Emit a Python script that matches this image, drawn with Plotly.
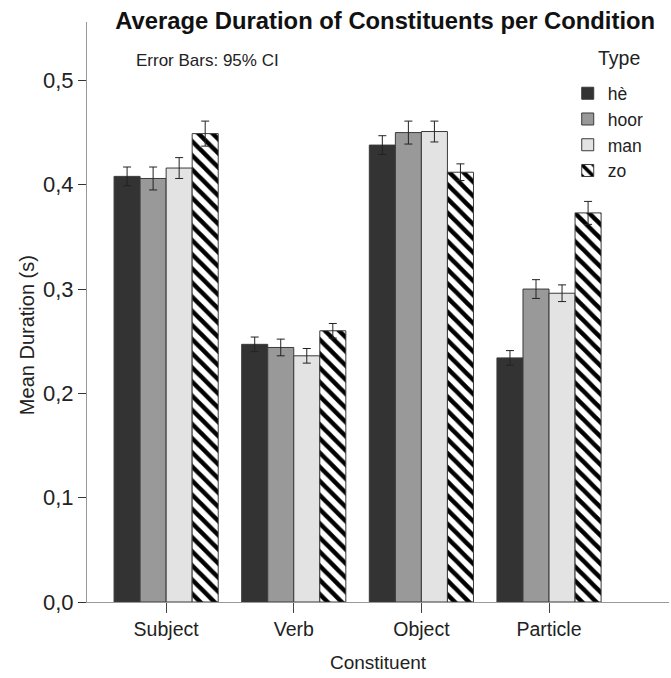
import plotly.graph_objects as go

categories = ["Subject", "Verb", "Object", "Particle"]
types = ["hè", "hoor", "man", "zo"]

mean_he = [0.408, 0.247, 0.438, 0.234]
mean_hoor = [0.406, 0.244, 0.450, 0.300]
mean_man = [0.416, 0.236, 0.451, 0.296]
mean_zo = [0.449, 0.260, 0.412, 0.373]

ci_he = [0.009, 0.007, 0.009, 0.007]
ci_hoor = [0.011, 0.008, 0.011, 0.009]
ci_man = [0.010, 0.007, 0.010, 0.008]
ci_zo = [0.012, 0.007, 0.008, 0.011]

y_ticks = [0.0, 0.1, 0.2, 0.3, 0.4, 0.5]

series = [
    ("hè", mean_he, ci_he, dict(color="#333333")),
    ("hoor", mean_hoor, ci_hoor, dict(color="#999999")),
    ("man", mean_man, ci_man, dict(color="#e3e3e3")),
    ("zo", mean_zo, ci_zo, dict(color="white",
                                 pattern=dict(shape="\\", fgcolor="black", bgcolor="white",
                                              size=10, solidity=0.45, fillmode="replace"))),
]

FONT = "Liberation Sans, Arial, sans-serif"

fig = go.Figure()
for name, vals, ci, mk in series:
    marker = dict(mk)
    marker["line"] = dict(color="#3a3a3a", width=1)
    fig.add_trace(go.Bar(
        x=categories, y=vals, name=name, marker=marker,
        error_y=dict(type="data", array=ci, visible=True, color="#222222", thickness=1, width=4),
    ))

fig.update_layout(
    width=671, height=678,
    margin=dict(l=87, r=2, t=22, b=76),
    paper_bgcolor="white", plot_bgcolor="white",
    separators=",.",
    barmode="group", bargap=0.184, bargroupgap=0,
    font=dict(family=FONT, size=19, color="#222222"),
    title=dict(text="<b>Average Duration of Constituents per Condition</b>",
               x=0.574, xanchor="center", y=0.970, yanchor="middle",
               font=dict(family=FONT, size=23.8, color="#111111")),
    xaxis=dict(
        range=[-0.62, 3.94], showgrid=False, zeroline=False,
        showline=True, linecolor="#999999", linewidth=1,
        ticks="outside", ticklen=10, tickcolor="#444444",
        tickfont=dict(size=19.5, color="#222222"),
        title=dict(text="Constituent", font=dict(size=19, color="#222222"), standoff=16),
    ),
    yaxis=dict(
        range=[0, 0.556], tickvals=y_ticks, tickformat=".1f",
        showgrid=False, zeroline=False,
        showline=True, linecolor="#999999", linewidth=1,
        ticks="outside", ticklen=8, tickcolor="#333333",
        tickfont=dict(size=22, color="#222222"),
    ),
    legend=dict(
        x=0.826, xanchor="left", y=0.908, yanchor="top",
        bgcolor="rgba(0,0,0,0)", font=dict(size=17.5, color="#222222"),
        itemwidth=30, tracegroupgap=0,
    ),
    annotations=[
        dict(text="Error Bars: 95% CI", xref="paper", yref="paper",
             x=0.0805, y=0.933, xanchor="left", yanchor="middle", showarrow=False,
             font=dict(size=17, color="#222222")),
        dict(text="Type", xref="paper", yref="paper",
             x=0.914, y=0.938, xanchor="center", yanchor="middle", showarrow=False,
             font=dict(size=19.5, color="#222222")),
        dict(text="Mean Duration (s)", xref="paper", yref="paper", textangle=-90,
             x=-0.1032, y=0.46, xanchor="center", yanchor="middle", showarrow=False,
             font=dict(size=20, color="#222222")),
    ],
)

fig.write_html("out.html")
